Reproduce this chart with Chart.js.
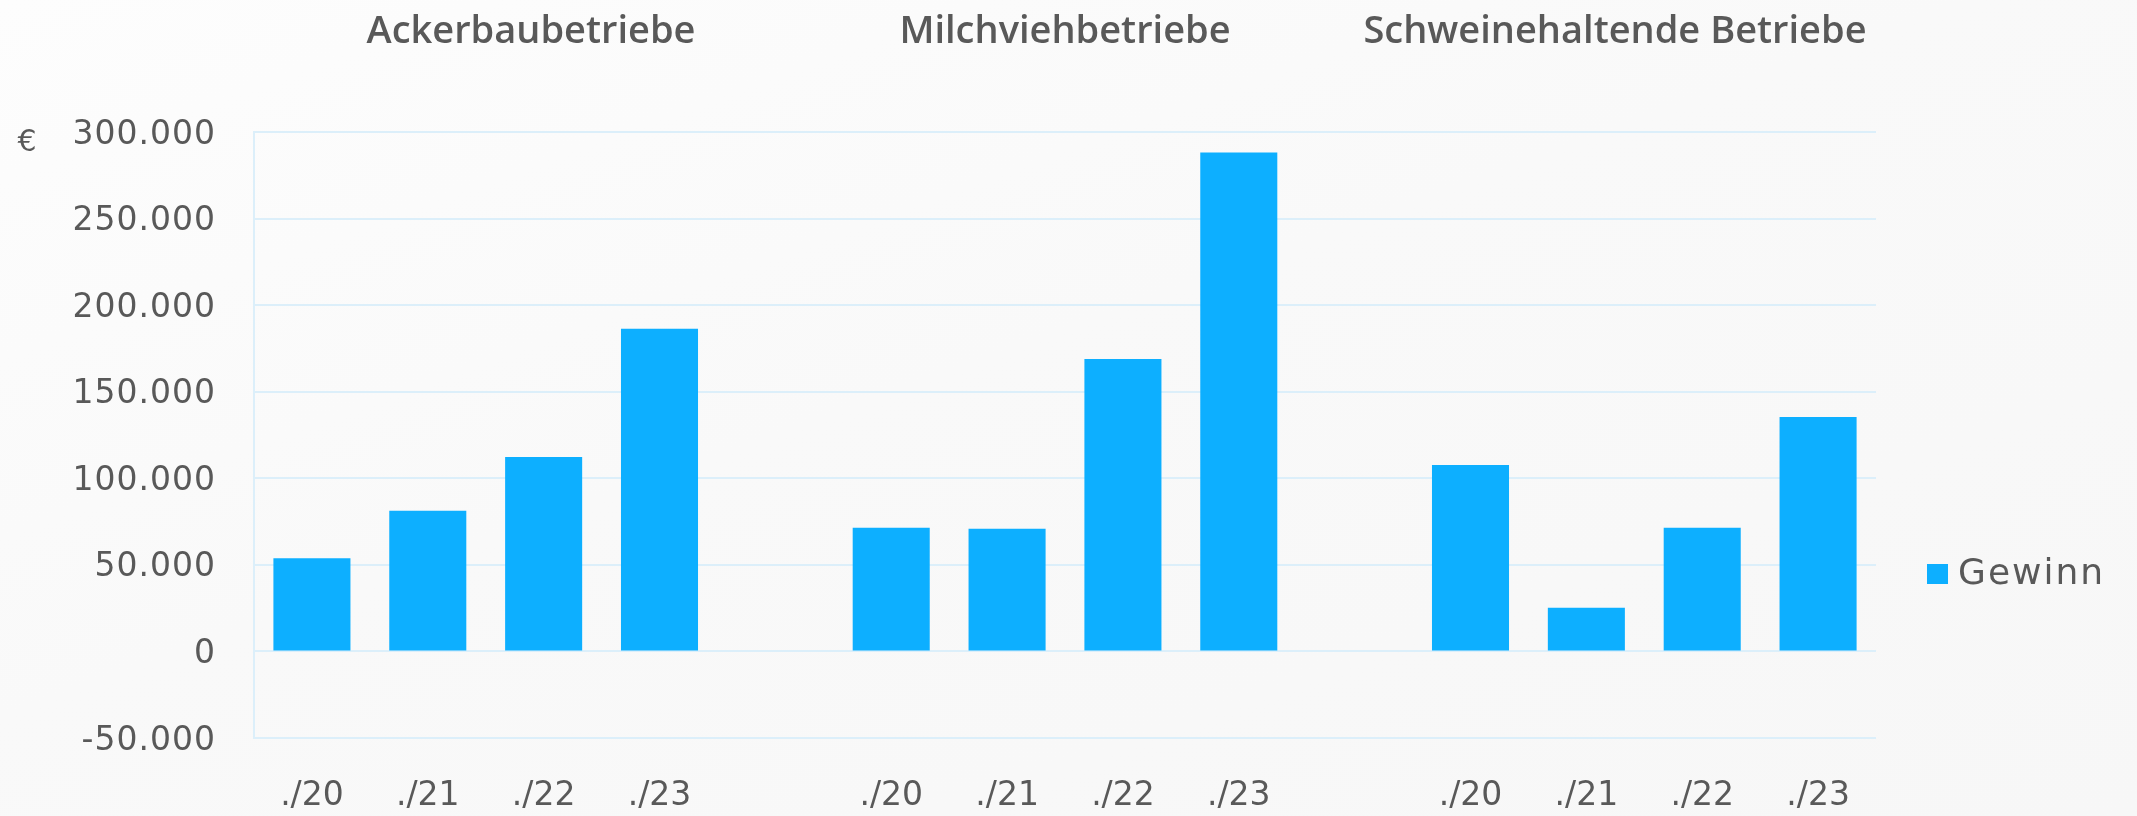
<!DOCTYPE html>
<html><head><meta charset="utf-8">
<script src="https://cdn.jsdelivr.net/npm/chart.js@4"></script>
<style>
html,body{margin:0;padding:0;width:2137px;height:816px;overflow:hidden;background:linear-gradient(160deg,#fdfdfd 0%,#f9f9f9 45%,#f7f7f7 100%);}
#wrap{position:relative;width:2137px;height:816px;}
</style></head><body>
<div id="wrap"><canvas id="c" width="2137" height="816"></canvas></div>
<script>
// ---- data ----
const groupTitles = ['Ackerbaubetriebe', 'Milchviehbetriebe', 'Schweinehaltende Betriebe'];
const yearLabels = ['./20', './21', './22', './23'];
const ackerbau = [53800, 81200, 112300, 186300];
const milchvieh = [71400, 70900, 168900, 288200];
const schweine = [107700, 25200, 71500, 135400];
const seriesName = 'Gewinn';
const yMin = -50000, yMax = 300000, yStep = 50000;
const unitLabel = '€';

// ---- build category table (empty category between groups) ----
const groupValues = [ackerbau, milchvieh, schweine];
const labels = [], values = [];
groupValues.forEach((g, i) => {
  if (i > 0) { labels.push(''); values.push(null); }
  yearLabels.forEach((y, j) => { labels.push(y); values.push(g[j]); });
});

// ---- styles ----
const textColor = '#595959';
const barColor = '#0DAFFF';
const gridColor = '#DCEFFA';
const tickFont = { family: 'DejaVu Sans', size: 33 };
const titleFont = '600 38px "Open Sans"';
const titleCenters = [531, 1065, 1615];

function fmt(v) {
  const s = Math.abs(v).toString().replace(/\B(?=(\d{3})+(?!\d))/g, '.');
  return (v < 0 ? '-' : '') + s;
}

const decor = {
  id: 'decor',
  afterLayout(chart) {
    const ys = chart.scales.y;
    if (ys && !ys._spaced) {
      const orig = ys.drawLabels.bind(ys);
      ys.drawLabels = function (ca) {
        const ctx = chart.ctx;
        ctx.save();
        ctx.translate(0, 3);
        if ('letterSpacing' in ctx) ctx.letterSpacing = '1px';
        orig(ca);
        ctx.restore();
      };
      ys._spaced = true;
    }
  },
  afterDraw(chart) {
    const ctx = chart.ctx;
    ctx.save();
    // group titles
    ctx.fillStyle = textColor;
    ctx.font = titleFont;
    ctx.textAlign = 'center';
    ctx.textBaseline = 'alphabetic';
    groupTitles.forEach((t, i) => ctx.fillText(t, titleCenters[i], 43));
    // unit
    ctx.font = '30px "DejaVu Sans"';
    ctx.textAlign = 'center';
    ctx.textBaseline = 'middle';
    ctx.fillText(unitLabel, 27, 143);
    // legend
    const ds = chart.data.datasets[0];
    ctx.fillStyle = ds.backgroundColor;
    ctx.fillRect(1927, 564, 21, 20);
    ctx.fillStyle = textColor;
    ctx.font = '36px "DejaVu Sans"';
    if ('letterSpacing' in ctx) ctx.letterSpacing = '2px';
    ctx.textAlign = 'left';
    ctx.textBaseline = 'middle';
    ctx.fillText(ds.label, 1958, 575);
    if ('letterSpacing' in ctx) ctx.letterSpacing = '0px';
    ctx.restore();
  }
};

new Chart(document.getElementById('c'), {
  type: 'bar',
  data: {
    labels: labels,
    datasets: [{
      label: seriesName,
      data: values,
      backgroundColor: barColor,
      borderWidth: 0,
      barPercentage: 0.665,
      categoryPercentage: 1.0
    }]
  },
  options: {
    responsive: false,
    animation: false,
    layout: { padding: { top: 132, right: 261, bottom: 0, left: 0 } },
    plugins: { legend: { display: false }, tooltip: { enabled: false } },
    scales: {
      x: {
        grid: { display: false, drawTicks: false },
        border: { display: false },
        ticks: { font: tickFont, color: textColor, padding: 39, maxRotation: 0, autoSkip: false },
        afterFit(s) { s.height = 78; }
      },
      y: {
        min: yMin, max: yMax,
        ticks: { stepSize: yStep, callback: (v) => fmt(v), font: tickFont, color: textColor, padding: 38 },
        grid: { color: gridColor, lineWidth: 2, drawTicks: false },
        border: { display: true, color: gridColor, width: 2 },
        afterFit(s) { s.width = 254; }
      }
    }
  },
  plugins: [decor]
});
</script>
</body></html>
